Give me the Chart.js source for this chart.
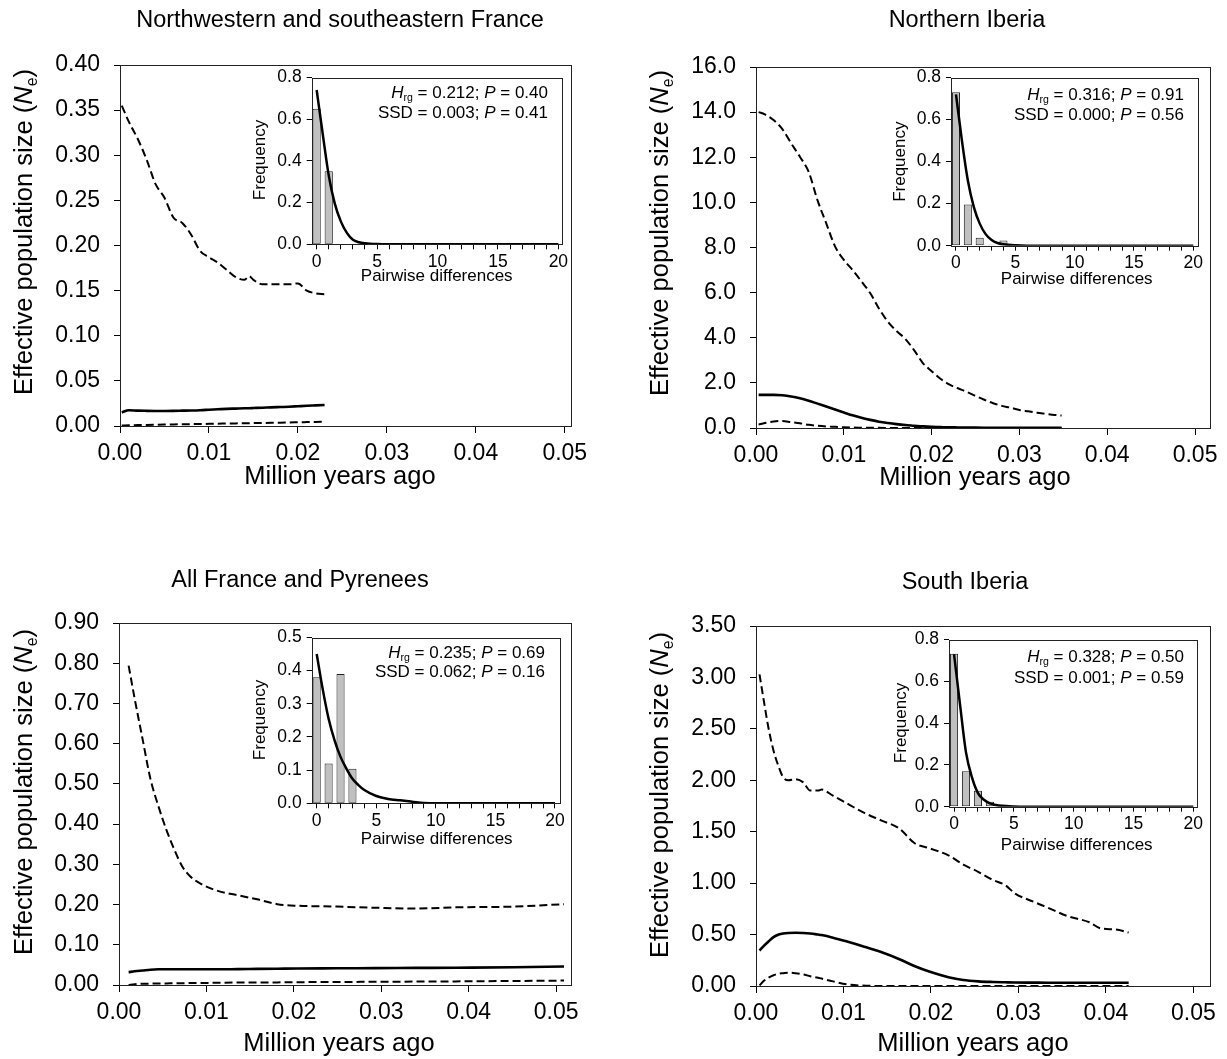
<!DOCTYPE html>
<html>
<head>
<meta charset="utf-8">
<script src="https://cdn.jsdelivr.net/npm/chart.js@4.4.1/dist/chart.umd.min.js"></script>
<style>
  body { margin: 0; background: #fff; }
  #page { position: relative; width: 1227px; height: 1059px; overflow: hidden; background: #fff; }
  #page canvas { position: absolute; }
</style>
</head>
<body>
<div id="page"></div>
<script>
// ---------- data ----------
// Bayesian skyline plots: time (million years ago) and Ne (upper 95%, median, lower 95%)
const nwFranceT = [0.0002, 0.001, 0.002, 0.003, 0.004, 0.005, 0.006, 0.007, 0.008, 0.009, 0.010, 0.011, 0.012,
  0.013, 0.014, 0.0145, 0.015, 0.016, 0.017, 0.018, 0.019, 0.020, 0.021, 0.022, 0.023];
const nwFranceUpper = [0.355, 0.337, 0.318, 0.295, 0.268, 0.253, 0.231, 0.225, 0.212, 0.194, 0.187, 0.181, 0.173,
  0.165, 0.162, 0.166, 0.162, 0.157, 0.157, 0.157, 0.157, 0.158, 0.150, 0.147, 0.146];
const nwFranceMedian = [0.015, 0.0175, 0.017, 0.0168, 0.0167, 0.0167, 0.0168, 0.017, 0.0172, 0.0175, 0.018, 0.0185, 0.019,
  0.0193, 0.0196, 0.0197, 0.0199, 0.0203, 0.0206, 0.021, 0.0214, 0.0219, 0.0224, 0.0228, 0.0232];
const nwFranceLower = [0.0005, 0.0008, 0.001, 0.0012, 0.0014, 0.0016, 0.0018, 0.0019, 0.0021, 0.0022, 0.0024, 0.0026, 0.0027,
  0.0029, 0.003, 0.0031, 0.0032, 0.0034, 0.0035, 0.0037, 0.0039, 0.0041, 0.0043, 0.0045, 0.0048];

const nIberiaT = [0.0003, 0.001, 0.002, 0.003, 0.004, 0.005, 0.006, 0.007, 0.008, 0.009, 0.010, 0.011, 0.012, 0.013,
  0.014, 0.015, 0.016, 0.017, 0.018, 0.019, 0.020, 0.021, 0.022, 0.023, 0.024, 0.025, 0.026, 0.027, 0.028, 0.029,
  0.030, 0.031, 0.032, 0.033, 0.034, 0.0348];
const nIberiaUpper = [14.0, 13.9, 13.65, 13.25, 12.62, 12.02, 11.35, 10.1, 9.07, 8.05, 7.45, 7.0, 6.5, 5.98,
  5.3, 4.72, 4.3, 3.95, 3.45, 2.88, 2.52, 2.18, 1.93, 1.76, 1.6, 1.42, 1.25, 1.1, 0.98, 0.9,
  0.8, 0.74, 0.68, 0.63, 0.58, 0.55];
const nIberiaMedian = [1.47, 1.47, 1.47, 1.45, 1.40, 1.32, 1.21, 1.08, 0.95, 0.82, 0.69, 0.56, 0.45, 0.36,
  0.28, 0.22, 0.17, 0.13, 0.10, 0.07, 0.05, 0.04, 0.03, 0.025, 0.02, 0.015, 0.013, 0.012, 0.011, 0.01,
  0.01, 0.01, 0.01, 0.01, 0.01, 0.01];
const nIberiaLower = [0.15, 0.22, 0.29, 0.31, 0.26, 0.21, 0.14, 0.10, 0.07, 0.05, 0.03, 0.02, 0.015, 0.01,
  0.006, 0.004, 0.003, 0.002, 0.001, 0, 0, 0, 0, 0, 0, 0, 0, 0, 0, 0,
  0, 0, 0, 0, 0, 0];

const allFranceT = [0.0011, 0.0018, 0.0027, 0.0036, 0.0045, 0.0054, 0.0063, 0.0072, 0.0081, 0.0095, 0.0113,
  0.0136, 0.0158, 0.0181, 0.0204, 0.0249, 0.0294, 0.0339, 0.0385, 0.0452, 0.0509];
const allFranceUpper = [0.794, 0.711, 0.611, 0.512, 0.445, 0.387, 0.338, 0.296, 0.271, 0.250, 0.234,
  0.223, 0.213, 0.201, 0.197, 0.195, 0.192, 0.190, 0.193, 0.195, 0.201];
const allFranceMedian = [0.032, 0.034, 0.036, 0.038, 0.039, 0.039, 0.039, 0.039, 0.039, 0.039, 0.039,
  0.0395, 0.040, 0.0405, 0.041, 0.0415, 0.042, 0.0425, 0.043, 0.044, 0.046];
const allFranceLower = [0.0, 0.002, 0.003, 0.0035, 0.004, 0.004, 0.0045, 0.0045, 0.005, 0.005, 0.0055,
  0.006, 0.006, 0.0065, 0.007, 0.0075, 0.008, 0.0085, 0.009, 0.010, 0.011];

const sIberiaT = [0.0004, 0.0009, 0.0014, 0.002, 0.0026, 0.0031, 0.0037, 0.0045, 0.0054, 0.0062, 0.0071, 0.0075,
  0.0088, 0.0105, 0.0122, 0.0143, 0.0164, 0.0181, 0.0198, 0.022, 0.0237, 0.0254, 0.0271, 0.0285, 0.0296,
  0.0317, 0.0334, 0.0356, 0.0381, 0.0394, 0.0411, 0.0426];
const sIberiaUpper = [3.03, 2.77, 2.52, 2.29, 2.13, 2.03, 2.0, 2.01, 1.98, 1.90, 1.90, 1.91,
  1.85, 1.77, 1.69, 1.61, 1.53, 1.39, 1.34, 1.27, 1.18, 1.11, 1.03, 0.98, 0.90,
  0.82, 0.76, 0.68, 0.62, 0.56, 0.55, 0.52];
const sIberiaMedian = [0.345, 0.39, 0.43, 0.475, 0.50, 0.51, 0.515, 0.517, 0.515, 0.51, 0.50, 0.495,
  0.47, 0.43, 0.387, 0.33, 0.26, 0.194, 0.14, 0.085, 0.058, 0.045, 0.039, 0.036, 0.034,
  0.033, 0.032, 0.032, 0.032, 0.032, 0.032, 0.032];
const sIberiaLower = [0.006, 0.05, 0.08, 0.105, 0.12, 0.125, 0.13, 0.125, 0.113, 0.095, 0.08, 0.072,
  0.045, 0.015, 0.004, 0, 0, 0, 0, 0, 0, 0, 0, 0, 0,
  0, 0, 0, 0, 0, 0, 0];

// mismatch distributions (insets): expected curve and observed bars
const pairwiseX = [0, 0.5, 1, 1.5, 2, 2.5, 3, 3.5, 4, 5, 6, 7, 8, 9, 10, 12, 14, 16, 18, 20];
const nwFranceExpected = [0.74, 0.53, 0.33, 0.195, 0.11, 0.055, 0.022, 0.01, 0.005, 0.001, 0, 0, 0, 0, 0, 0, 0, 0, 0, 0];
const nIberiaExpected = [0.72, 0.50, 0.31, 0.185, 0.105, 0.055, 0.027, 0.013, 0.007, 0.002, 0, 0, 0, 0, 0, 0, 0, 0, 0, 0];
const allFranceExpected = [0.45, 0.345, 0.255, 0.19, 0.14, 0.104, 0.074, 0.055, 0.04, 0.022, 0.013, 0.009, 0.005, 0.001, 0, 0, 0, 0, 0, 0];
const sIberiaExpected = [0.73, 0.49, 0.26, 0.14, 0.065, 0.033, 0.016, 0.008, 0.004, 0.001, 0, 0, 0, 0, 0, 0, 0, 0, 0, 0];

const nwFranceObsX = [0, 1];
const nwFranceObs = [0.65, 0.35];
const nIberiaObsX = [0, 1, 2, 3, 4];
const nIberiaObs = [0.73, 0.196, 0.038, 0.004, 0.025];
const allFranceObsX = [0, 1, 2, 3];
const allFranceObs = [0.38, 0.12, 0.39, 0.104];
const sIberiaObsX = [0, 1, 2, 3];
const sIberiaObs = [0.732, 0.17, 0.076, 0.024];

// test statistics: Hrg, P, SSD, P
const nwFranceStats = ['0.212', '0.40', '0.003', '0.41'];
const nIberiaStats = ['0.316', '0.91', '0.000', '0.56'];
const allFranceStats = ['0.235', '0.69', '0.062', '0.16'];
const sIberiaStats = ['0.328', '0.50', '0.001', '0.59'];

// tick labels
const mainXTicks = [0, 0.01, 0.02, 0.03, 0.04, 0.05];
const nwFranceYTicks = [0, 0.05, 0.10, 0.15, 0.20, 0.25, 0.30, 0.35, 0.40];
const nIberiaYTicks = [0, 2, 4, 6, 8, 10, 12, 14, 16];
const allFranceYTicks = [0, 0.1, 0.2, 0.3, 0.4, 0.5, 0.6, 0.7, 0.8, 0.9];
const sIberiaYTicks = [0, 0.5, 1.0, 1.5, 2.0, 2.5, 3.0, 3.5];
const pairwiseTicks = [0, 1, 2, 3, 4, 5, 6, 7, 8, 9, 10, 11, 12, 13, 14, 15, 16, 17, 18, 19, 20];
const pairwiseLabels = [0, 5, 10, 15, 20];
const freqTicks08 = [0, 0.2, 0.4, 0.6, 0.8];
const freqTicks05 = [0, 0.1, 0.2, 0.3, 0.4, 0.5];

// ---------- drawing ----------
const FONT = '"Liberation Sans", Arial, Helvetica, sans-serif';
Chart.defaults.font.family = FONT;
Chart.defaults.color = '#000';

function drawRich(ctx, segs, x, y, size, align, rot) {
  ctx.save();
  ctx.translate(x, y);
  if (rot) ctx.rotate(rot);
  const fontOf = s => (s.i ? 'italic ' : '') + (s.sub ? size * 0.62 : size) + 'px ' + FONT;
  const widths = segs.map(s => { ctx.font = fontOf(s); return ctx.measureText(s.t).width; });
  const total = widths.reduce((a, b) => a + b, 0);
  let cx = align === 'right' ? -total : align === 'center' ? -total / 2 : 0;
  ctx.textAlign = 'left';
  ctx.textBaseline = 'middle';
  ctx.fillStyle = '#000';
  segs.forEach((s, i) => {
    ctx.font = fontOf(s);
    ctx.fillText(s.t, cx, s.sub ? size * 0.3 : 0);
    cx += widths[i];
  });
  ctx.restore();
}

function makeCanvas(box) {
  const c = document.createElement('canvas');
  c.width = box.w;
  c.height = box.h;
  c.style.left = box.x + 'px';
  c.style.top = box.y + 'px';
  c.style.width = box.w + 'px';
  c.style.height = box.h + 'px';
  document.getElementById('page').appendChild(c);
  return c;
}

function textPlugin(box, items) {
  return {
    id: 'panelText',
    afterDraw(chart) {
      items.forEach(it => drawRich(chart.ctx, it.segs, it.x - box.x, it.y - box.y, it.size, it.align || 'center', it.rot || 0));
    }
  };
}

function framePlugin(fill) {
  return {
    id: 'frame',
    beforeDraw(chart) {
      if (!fill) return;
      const a = chart.chartArea, ctx = chart.ctx;
      ctx.save();
      ctx.fillStyle = '#fff';
      ctx.fillRect(a.left, a.top, a.right - a.left, a.bottom - a.top);
      ctx.restore();
    },
    afterDraw(chart) {
      const a = chart.chartArea, ctx = chart.ctx;
      ctx.save();
      ctx.strokeStyle = '#222';
      ctx.lineWidth = 1;
      ctx.strokeRect(Math.round(a.left) + 0.5, Math.round(a.top) + 0.5,
        Math.round(a.right) - Math.round(a.left), Math.round(a.bottom) - Math.round(a.top));
      ctx.restore();
    }
  };
}

function pts(xs, ys) { return xs.map((x, i) => ({ x: x, y: ys[i] })); }

function padFor(box, area, yw, xh) {
  return {
    left: area.l - box.x - yw,
    top: area.t - box.y,
    right: box.x + box.w - area.r,
    bottom: box.y + box.h - area.b - xh
  };
}

const MAIN_YW = 70, MAIN_XH = 40;
const INSET_YW = 40, INSET_XH = 28;

function mainChart(p) {
  const line = (ys, dashed) => ({
    data: pts(p.t, ys),
    borderColor: '#000',
    borderWidth: dashed ? 2 : 2.6,
    borderDash: dashed ? [8, 4] : [],
    pointRadius: 0,
    fill: false,
    cubicInterpolationMode: 'monotone'
  });
  const yLast = p.yTicks[p.yTicks.length - 1];
  new Chart(makeCanvas(p.box), {
    type: 'line',
    data: { datasets: [line(p.upper, true), line(p.median, false), line(p.lower, true)] },
    options: {
      responsive: false,
      animation: false,
      layout: { padding: padFor(p.box, p.area, MAIN_YW, MAIN_XH) },
      plugins: { legend: { display: false }, tooltip: { enabled: false } },
      scales: {
        x: {
          type: 'linear', min: 0, max: p.xMax,
          afterBuildTicks: s => { s.ticks = mainXTicks.map(v => ({ value: v })); },
          afterFit: s => { s.height = MAIN_XH; },
          ticks: { autoSkip: false, maxRotation: 0, padding: 7, color: '#000', font: { size: 23 },
            callback: v => v.toFixed(2) },
          grid: { drawOnChartArea: false, tickLength: 7, color: '#000' },
          border: { display: false }
        },
        y: {
          type: 'linear', min: 0, max: yLast,
          afterBuildTicks: s => { s.ticks = p.yTicks.map(v => ({ value: v })); },
          afterFit: s => { s.width = MAIN_YW; },
          ticks: { autoSkip: false, padding: 14, color: '#000', font: { size: 23 },
            callback: v => v.toFixed(p.yDec) },
          grid: { drawOnChartArea: false, tickLength: 6, color: '#000' },
          border: { display: false }
        }
      }
    },
    plugins: [framePlugin(false), textPlugin(p.box, [
      { segs: [{ t: p.title }], x: p.titlePos[0], y: p.titlePos[1], size: 23.5 },
      { segs: [{ t: 'Million years ago' }], x: p.xTitlePos[0], y: p.xTitlePos[1], size: 25.5 },
      { segs: [{ t: 'Effective population size (' }, { t: 'N', i: true }, { t: 'e', sub: true }, { t: ')' }],
        x: p.yTitlePos[0], y: p.yTitlePos[1], size: 25.5, rot: -Math.PI / 2 }
    ])]
  });
}

function insetChart(q) {
  const yLast = q.yTicks[q.yTicks.length - 1];
  new Chart(makeCanvas(q.box), {
    type: 'bar',
    data: {
      datasets: [
        { type: 'line', data: pts(pairwiseX, q.expected), borderColor: '#000', borderWidth: 2.5,
          pointRadius: 0, fill: false, cubicInterpolationMode: 'monotone', order: 0 },
        { type: 'bar', data: pts(q.obsX, q.obs), backgroundColor: '#c0c0c0', borderColor: '#222',
          borderWidth: 1, borderSkipped: false, barPercentage: 0.85, categoryPercentage: 0.8, order: 1 }
      ]
    },
    options: {
      responsive: false,
      animation: false,
      layout: { padding: padFor(q.box, q.area, INSET_YW, INSET_XH) },
      plugins: { legend: { display: false }, tooltip: { enabled: false } },
      scales: {
        x: {
          type: 'linear', min: q.xMin, max: q.xMax, offset: false,
          afterBuildTicks: s => { s.ticks = pairwiseTicks.map(v => ({ value: v })); },
          afterFit: s => { s.height = INSET_XH; },
          ticks: { autoSkip: false, maxRotation: 0, padding: 2, color: '#000', font: { size: 17.5 },
            callback: v => pairwiseLabels.includes(v) ? String(v) : '' },
          grid: { offset: false, drawOnChartArea: false, tickLength: 5, color: '#000' },
          border: { display: false }
        },
        y: {
          type: 'linear', min: 0, max: yLast,
          afterBuildTicks: s => { s.ticks = q.yTicks.map(v => ({ value: v })); },
          afterFit: s => { s.width = INSET_YW; },
          ticks: { autoSkip: false, padding: 5, color: '#000', font: { size: 17.5 },
            callback: v => v.toFixed(1) },
          grid: { drawOnChartArea: false, tickLength: 5, color: '#000' },
          border: { display: false }
        }
      }
    },
    plugins: [framePlugin(true), textPlugin(q.box, [
      { segs: [{ t: 'H', i: true }, { t: 'rg', sub: true }, { t: ' = ' + q.stats[0] + '; ' }, { t: 'P', i: true }, { t: ' = ' + q.stats[1] }],
        x: q.statsPos[0], y: q.statsPos[1], size: 17, align: 'right' },
      { segs: [{ t: 'SSD = ' + q.stats[2] + '; ' }, { t: 'P', i: true }, { t: ' = ' + q.stats[3] }],
        x: q.statsPos[0], y: q.statsPos[2], size: 17, align: 'right' },
      { segs: [{ t: 'Frequency' }], x: q.freqPos[0], y: q.freqPos[1], size: 17, rot: -Math.PI / 2 },
      { segs: [{ t: 'Pairwise differences' }], x: q.pairPos[0], y: q.pairPos[1], size: 17 }
    ])]
  });
}

// ---------- layout ----------
mainChart({ title: 'Northwestern and southeastern France', t: nwFranceT, upper: nwFranceUpper, median: nwFranceMedian,
  lower: nwFranceLower, yTicks: nwFranceYTicks, yDec: 2, xMax: 0.0507,
  box: { x: 0, y: 0, w: 613, h: 530 }, area: { l: 120, t: 65, r: 571, b: 426 },
  titlePos: [340, 21], xTitlePos: [340, 477], yTitlePos: [25, 232] });

mainChart({ title: 'Northern Iberia', t: nIberiaT, upper: nIberiaUpper, median: nIberiaMedian,
  lower: nIberiaLower, yTicks: nIberiaYTicks, yDec: 1, xMax: 0.0517,
  box: { x: 613, y: 0, w: 614, h: 530 }, area: { l: 756, t: 67, r: 1210, b: 428 },
  titlePos: [967, 21], xTitlePos: [975, 478], yTitlePos: [661, 233] });

mainChart({ title: 'All France and Pyrenees', t: allFranceT, upper: allFranceUpper, median: allFranceMedian,
  lower: allFranceLower, yTicks: allFranceYTicks, yDec: 2, xMax: 0.0517,
  box: { x: 0, y: 530, w: 613, h: 529 }, area: { l: 119, t: 623, r: 571, b: 985 },
  titlePos: [300, 581], xTitlePos: [339, 1044], yTitlePos: [25, 792] });

mainChart({ title: 'South Iberia', t: sIberiaT, upper: sIberiaUpper, median: sIberiaMedian,
  lower: sIberiaLower, yTicks: sIberiaYTicks, yDec: 2, xMax: 0.0519,
  box: { x: 613, y: 530, w: 614, h: 529 }, area: { l: 756, t: 626, r: 1210, b: 986 },
  titlePos: [965, 583], xTitlePos: [973, 1044], yTitlePos: [661, 795] });

insetChart({ expected: nwFranceExpected, obsX: nwFranceObsX, obs: nwFranceObs, stats: nwFranceStats,
  yTicks: freqTicks08, xMin: -0.41, xMax: 20.3,
  box: { x: 240, y: 62, w: 335, h: 230 }, area: { l: 311.7, t: 75.7, r: 562, b: 244.3 },
  statsPos: [548, 93.5, 113.5], freqPos: [260.7, 160], pairPos: [436.7, 276] });

insetChart({ expected: nIberiaExpected, obsX: nIberiaObsX, obs: nIberiaObs, stats: nIberiaStats,
  yTicks: freqTicks08, xMin: -0.42, xMax: 20.42,
  box: { x: 880, y: 62, w: 340, h: 235 }, area: { l: 951, t: 76.7, r: 1198.3, b: 245.7 },
  statsPos: [1184, 95, 115], freqPos: [900.7, 161.7], pairPos: [1076.7, 279] });

insetChart({ expected: allFranceExpected, obsX: allFranceObsX, obs: allFranceObs, stats: allFranceStats,
  yTicks: freqTicks05, xMin: -0.42, xMax: 20.42,
  box: { x: 240, y: 622, w: 335, h: 235 }, area: { l: 311.7, t: 635.7, r: 560, b: 803.3 },
  statsPos: [545, 653.5, 672], freqPos: [260, 720], pairPos: [436.7, 839] });

insetChart({ expected: sIberiaExpected, obsX: sIberiaObsX, obs: sIberiaObs, stats: sIberiaStats,
  yTicks: freqTicks08, xMin: -0.42, xMax: 20.33,
  box: { x: 880, y: 624, w: 340, h: 235 }, area: { l: 949, t: 638.3, r: 1197.3, b: 806.7 },
  statsPos: [1184, 657, 678], freqPos: [901.7, 723], pairPos: [1076.7, 845] });
</script>
</body>
</html>
